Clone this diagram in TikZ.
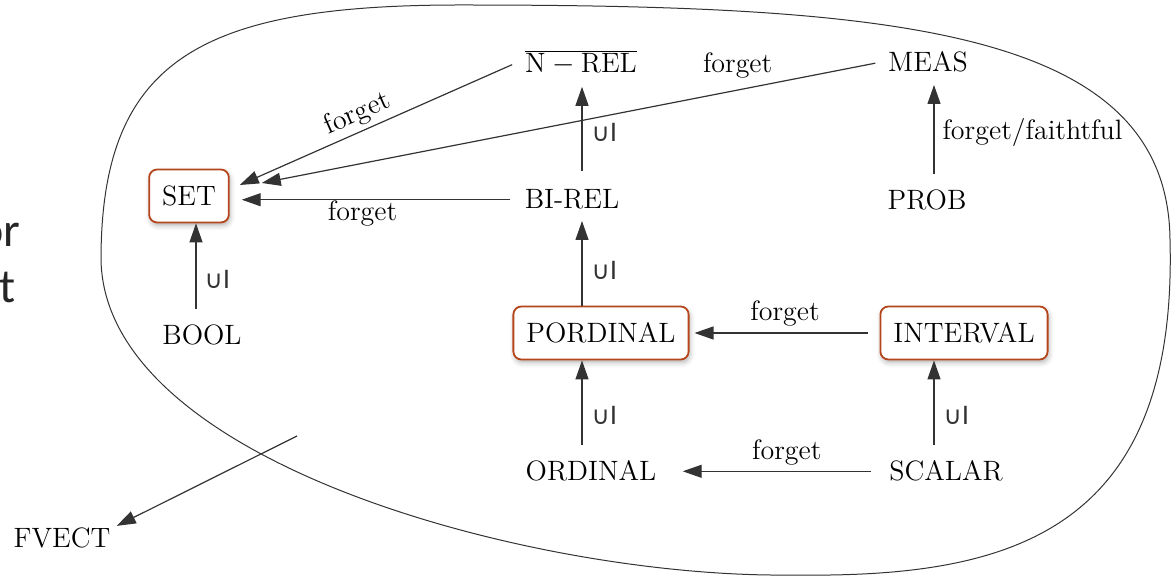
\documentclass[tikz,border=0pt]{standalone}
\usepackage{fontspec}
\newfontfamily\dejavu{DejaVu Sans}
\newfontfamily\slidefont{Carlito}
\usetikzlibrary{arrows.meta,shadows.blur}
\definecolor{rust}{HTML}{B5461C}
\definecolor{ink}{HTML}{333333}
\begin{document}
\begin{tikzpicture}[x=0.5pt,y=-0.5pt,
  font=\fontsize{14}{17}\selectfont,
  lbl/.style={inner sep=4pt, anchor=base},
  hl/.style={draw=rust, line width=0.9pt, rounded corners=4pt, fill=white,
    minimum height=26.5pt, inner xsep=6.5pt,
    blur shadow={shadow xshift=0.6pt, shadow yshift=-1.5pt, shadow blur radius=2.5pt, shadow opacity=30}},
  arr/.style={draw=black!80, line width=0.6pt, -{Triangle[length=9.5pt,width=6.5pt]}},
  edgelab/.style={inner sep=0pt},
  sub/.style={font=\dejavu\fontsize{12.5}{14}\selectfont, text=ink, inner sep=0pt},
  blob/.style={draw=ink, line width=0.5pt},
  slide/.style={font=\slidefont\fontsize{24}{28}\selectfont, text=black!85, anchor=base east, inner sep=0pt}]
\useasboundingbox (0,0) rectangle (1172,576);
\clip (0,0) rectangle (1172,576);

% slide text fragments cut at the left edge
\node[slide] (or) at (21,247) {or};
\node[slide] (t) at (16,303) {t};

% enclosing blob
\draw[blob] (101,260) .. controls (101,60) and (200,5) .. (460,5)
  .. controls (900,5) and (1168,30) .. (1170,240)
  .. controls (1178,540) and (1000,578) .. (790,575)
  .. controls (540,578) and (105,465) .. cycle;

% nodes
\node[hl] (set) at (189,196) {SET};
\node[lbl] (bool) at (202,345) {BOOL};
\node[lbl] (nrel) at (581,73) {$\overline{\mathrm{N}-\mathrm{REL}}$};
\node[lbl] (meas) at (928,72) {MEAS};
\node[lbl] (bi) at (572,209) {BI-REL};
\node[lbl] (prob) at (927,210) {PROB};
\node[hl] (pord) at (601,333) {PORDINAL};
\node[hl] (intv) at (964,333) {INTERVAL};
\node[lbl] (ord) at (591,481) {ORDINAL};
\node[lbl] (scal) at (946,481) {SCALAR};
\node[lbl] (fvect) at (62,548) {FVECT};
\coordinate (fvs) at (297,436);

% connectors
\draw[arr, shorten <=4pt] ([xshift=-3pt]bool.north) -- ([xshift=3.5pt]set.south)
  node[sub, pos=0.4, right=4pt] {∪I};
\draw[arr, shorten <=5pt, shorten >=1.5pt] ([xshift=5pt]bi.north) -- ([xshift=0.5pt]nrel.south)
  node[sub, pos=0.5, right=4.5pt] {∪I};
\draw[arr, shorten >=1.5pt] ([xshift=-9.5pt]pord.north) -- ([xshift=5pt]bi.south)
  node[sub, pos=0.4, right=4.5pt] {∪I};
\draw[arr, shorten <=4pt] ([xshift=-4.5pt]ord.north) -- ([xshift=-9.5pt]pord.south)
  node[sub, pos=0.4, right=4.5pt] {∪I};
\draw[arr, shorten <=4pt] ([xshift=-6pt]scal.north) -- ([xshift=-15pt]intv.south)
  node[sub, pos=0.4, right=4.5pt] {∪I};
\draw[arr, shorten <=4pt, shorten >=2pt] ([xshift=3.5pt]prob.north) -- ([xshift=3pt]meas.south)
  node[edgelab, pos=0.485, right=4pt] {forget/faithtful};
\draw[arr, shorten <=6pt, shorten >=2.5pt] (intv.west) -- (pord.east)
  node[edgelab, pos=0.497, above=3pt] {forget};
\draw[arr, shorten <=5pt, shorten >=9pt] (scal.west) -- (ord.east |- scal.west)
  node[edgelab, pos=0.435, above=2.5pt] {forget};
\draw[arr, shorten <=3pt] (bi.west) -- ([xshift=6pt]set.east |- bi.west)
  node[edgelab, pos=0.56, below=0pt] {forget};
\draw[arr, shorten <=2.5pt] (nrel.west) -- ([xshift=5pt,yshift=5.5pt]set.east)
  node[edgelab, pos=0.55, above=2pt, sloped] {forget};
\draw[arr, shorten <=2.3pt] (meas.west) -- ([xshift=16pt,yshift=6.5pt]set.east)
  node[edgelab, pos=0.23, above=5.8pt] {forget};
\draw[arr] (fvs) -- ([xshift=-1pt,yshift=-3pt]fvect.north east);
\end{tikzpicture}
\end{document}
